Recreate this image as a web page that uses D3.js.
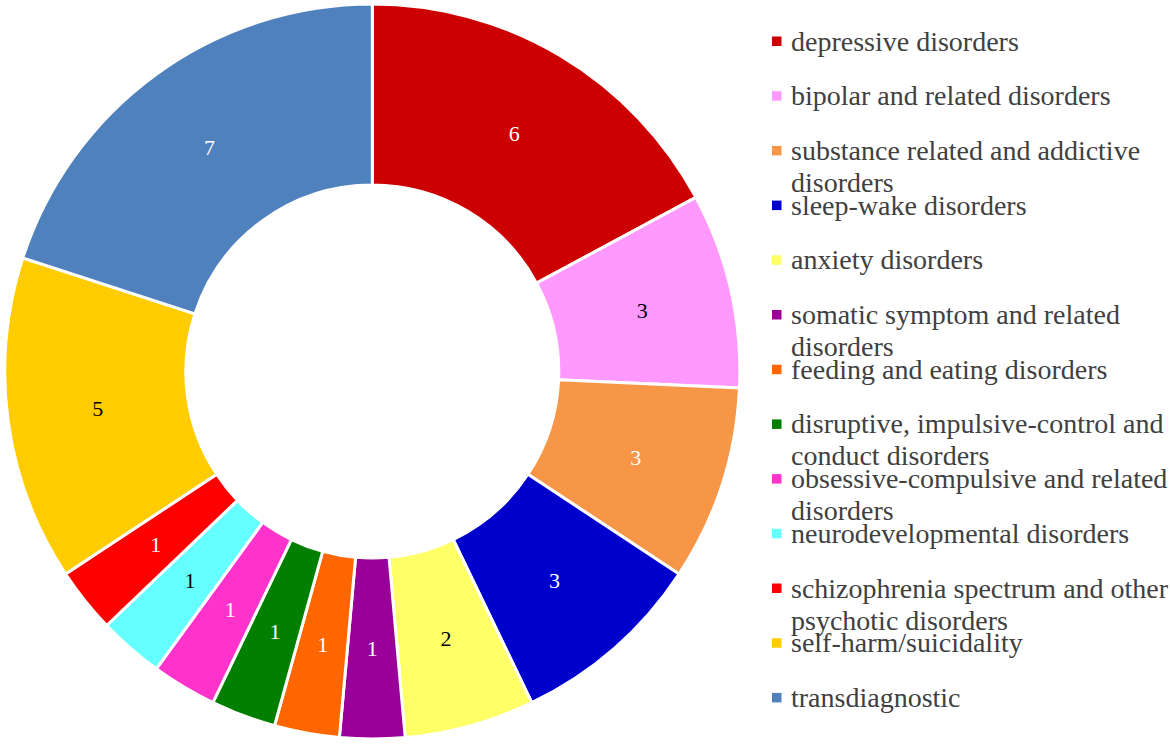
<!DOCTYPE html>
<html>
<head>
<meta charset="utf-8">
<script src="https://cdn.jsdelivr.net/npm/d3@7"></script>
<style>
  body { margin: 0; background: #fff; }
  text { font-family: "Liberation Serif", "Times New Roman", serif; }
</style>
</head>
<body>
<div id="chart"></div>
<script>
// categories in clockwise order from 12 o'clock
const categories = [
    "depressive disorders",
    "bipolar and related disorders",
    "substance related and addictive disorders",
    "sleep-wake disorders",
    "anxiety disorders",
    "somatic symptom and related disorders",
    "feeding and eating disorders",
    "disruptive, impulsive-control and conduct disorders",
    "obsessive-compulsive and related disorders",
    "neurodevelopmental disorders",
    "schizophrenia spectrum and other psychotic disorders",
    "self-harm/suicidality",
    "transdiagnostic"
];
const counts = [6, 3, 3, 3, 2, 1, 1, 1, 1, 1, 1, 5, 7];
const colors = ["#CC0000", "#FF99FF", "#F79646", "#0000CC", "#FFFF66", "#990099",
    "#FF6600", "#007F00", "#FF33CC", "#66FFFF", "#FF0000", "#FFCC00", "#4F81BD"];
const labelColors = ["#fff", "#000", "#fff", "#fff", "#000", "#fff",
    "#fff", "#fff", "#fff", "#000", "#fff", "#000", "#fff"];

const width = 1170, height = 744;
const svg = d3.select('#chart')
    .append('svg')
    .attr('width', width)
    .attr('height', height);

// donut
const cx = 372.3, cy = 371.5;
const outerR = 367.5, innerR = 186.5;

const data = categories.map((c, i) => ({name: c, value: counts[i]}));
const pie = d3.pie().value(d => d.value).sort(null);
const arc = d3.arc().innerRadius(innerR).outerRadius(outerR);
const color = d3.scaleOrdinal().domain(categories).range(colors);
const labelColor = d3.scaleOrdinal().domain(categories).range(labelColors);

const graph = svg.append('g')
    .attr('transform', `translate(${cx}, ${cy})`);

const slices = graph.selectAll('g.slice')
    .data(pie(data))
    .enter()
    .append('g')
    .attr('class', 'slice');

slices.append('path')
    .attr('d', arc)
    .attr('fill', d => color(d.data.name))
    .attr('stroke', '#fff')
    .attr('stroke-width', 3)
    .attr('stroke-linejoin', 'miter');

slices.append('text')
    .attr('transform', d => `translate(${arc.centroid(d)})`)
    .attr('text-anchor', 'middle')
    .attr('dy', '0.35em')
    .attr('font-size', '22px')
    .attr('fill', d => labelColor(d.data.name))
    .text(d => d.data.value);

// legend
const legendX = 772, textX = 791;
const firstBaseline = 50.5, rowStep = 54.7, lineHeight = 32;
const maxTextWidth = 385;

const legend = svg.append('g').attr('class', 'legend');
const rows = legend.selectAll('g')
    .data(categories)
    .enter()
    .append('g')
    .attr('transform', (d, i) => `translate(0, ${firstBaseline + i * rowStep})`);

rows.append('rect')
    .attr('x', legendX)
    .attr('y', -14)
    .attr('width', 9.5)
    .attr('height', 9.5)
    .attr('fill', d => color(d));

rows.append('text')
    .attr('x', textX)
    .attr('y', 0)
    .attr('font-size', '28px')
    .attr('fill', '#404040')
    .each(function(d) {
        // simple word wrap
        const txt = d3.select(this);
        const words = d.split(' ');
        let line = [];
        let lineNo = 0;
        let tspan = txt.append('tspan').attr('x', textX).attr('y', 0);
        words.forEach(w => {
            line.push(w);
            tspan.text(line.join(' '));
            if (tspan.node().getComputedTextLength() > maxTextWidth && line.length > 1) {
                line.pop();
                tspan.text(line.join(' '));
                line = [w];
                lineNo++;
                tspan = txt.append('tspan')
                    .attr('x', textX)
                    .attr('y', lineNo * lineHeight)
                    .text(w);
            }
        });
    });
</script>
</body>
</html>
